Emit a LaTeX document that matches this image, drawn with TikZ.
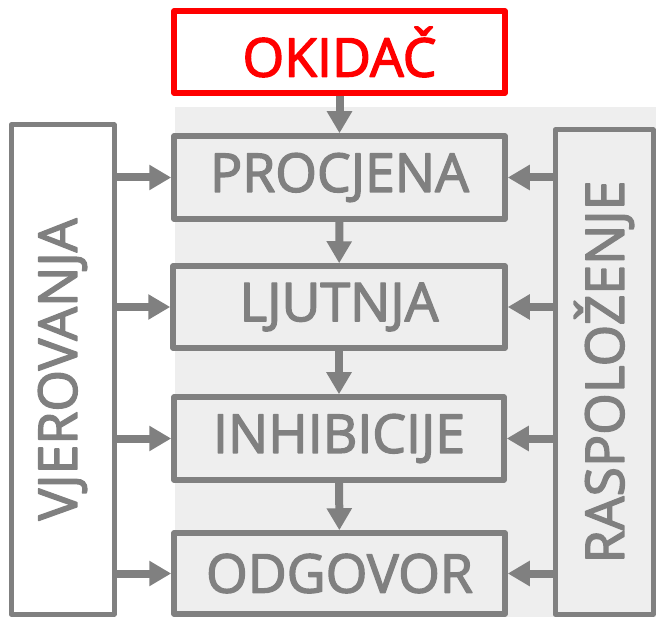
\documentclass[tikz,border=0pt]{standalone}
\usepackage{fontspec}
\newfontfamily\osf{Open Sans}[FakeBold=2.6]
\usetikzlibrary{arrows.meta}
\definecolor{gc}{HTML}{808080}
\definecolor{bgc}{HTML}{EEEEEE}
\definecolor{rc}{HTML}{FF0000}
\begin{document}
\begin{tikzpicture}[x=1pt,y=-1pt,
  box/.style={draw=gc, line width=5.5pt, line join=round, rectangle, inner sep=0pt,
    text=gc, font=\osf\fontsize{53.5}{60}\selectfont},
  arr/.style={draw=gc, line width=8pt, -{Triangle[length=22pt,width=24pt]}}]
\useasboundingbox (0,0) rectangle (656,617);
\fill[bgc] (175,107) rectangle (656,617);
\node[box, draw=rc, text=rc, minimum width=331pt, minimum height=82pt] (okidac) at (339.5,52) {OKIDAČ};
\node[box, fill=bgc, minimum width=331pt, minimum height=83pt] (procjena) at (339.5,177.5) {PROCJENA};
\node[box, fill=bgc, minimum width=332pt, minimum height=82pt] (ljutnja) at (339,307) {LJUTNJA};
\node[box, fill=bgc, minimum width=330pt, minimum height=83pt] (inhib) at (339,438.5) {INHIBICIJE};
\node[box, fill=bgc, minimum width=331pt, minimum height=81pt] (odgovor) at (339.5,573.5) {ODGOVOR};
\node[box, fill=white, line width=5pt, minimum width=103pt, minimum height=489pt] (vjer) at (62.5,369.5) {\rotatebox{90}{VJEROVANJA}};
\node[box, line width=5pt, minimum width=98pt, minimum height=484pt] (rasp) at (604,372) {\rotatebox{90}{RASPOLOŽENJE}};
\draw[arr] (okidac) -- (procjena);
\draw[arr] (procjena) -- (ljutnja);
\draw[arr] (ljutnja) -- (inhib);
\draw[arr] (inhib) -- (odgovor);
\foreach \n in {procjena,ljutnja,inhib,odgovor}{
  \draw[arr] (vjer.east |- \n.west) -- (\n.west);
  \draw[arr] (rasp.west |- \n.east) -- (\n.east);
}
\end{tikzpicture}
\end{document}
